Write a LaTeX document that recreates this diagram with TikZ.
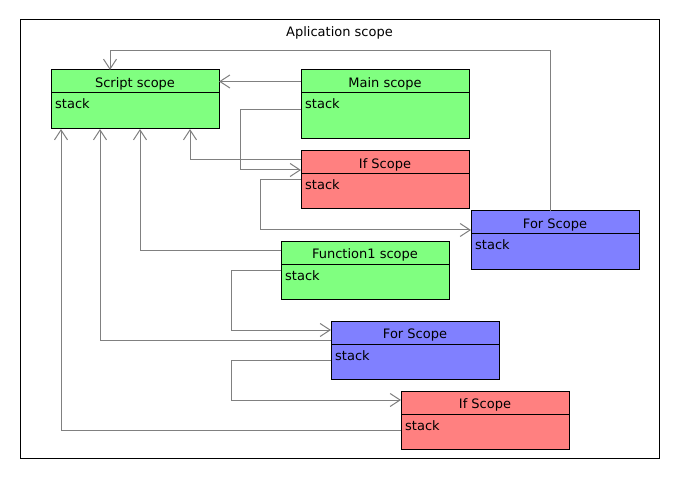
\documentclass[tikz,border=0pt]{standalone}
\usepackage{fontspec}
\setmainfont{DejaVu Sans}
\usetikzlibrary{arrows.meta,positioning,calc}
\definecolor{scopegreen}{RGB}{128,255,128}
\definecolor{scopered}{RGB}{255,128,128}
\definecolor{scopeblue}{RGB}{128,128,255}
\definecolor{linkgray}{RGB}{128,128,128}

\begin{document}
\begin{tikzpicture}[x=1pt,y=1pt,
    scopehead/.style={draw=black,line width=1pt,anchor=north west,minimum width=168pt,
      minimum height=23pt,inner sep=0pt,outer sep=0pt,text height=12.5pt,text depth=0.5pt,
      font=\fontsize{13}{15}\selectfont},
    scopebody/.style={draw=black,line width=1pt,anchor=north west,minimum width=168pt,
      inner sep=0pt,outer sep=0pt,
      label={[anchor=base west,xshift=4pt,yshift=-16pt,inner sep=0pt,
        font=\fontsize{13}{15}\selectfont]north west:stack}},
    link/.style={draw=linkgray,line width=1pt,
      -{Straight Barb[length=10pt,width=13pt,line width=1pt]}}]
  \useasboundingbox (0,0) rectangle (680,480);
  % frame
  \node[draw=black,line width=1pt,anchor=south west,minimum width=639pt,minimum height=439pt,
    inner sep=0pt] (frame) at (20,21) {};
  \node[anchor=base,inner sep=0pt,font=\fontsize{13}{15}\selectfont] (title) at (339.5,443.2) {Aplication scope};
  % scopes
  \node[scopehead,fill=scopegreen] (script) at (51,410) {Script scope};
  \node[scopebody,fill=scopegreen,minimum height=36pt] (script-s) at (script.south west) {};
  \node[scopehead,fill=scopegreen] (main) at (301,410) {Main scope};
  \node[scopebody,fill=scopegreen,minimum height=46pt] (main-s) at (main.south west) {};
  \node[scopehead,fill=scopered] (if1) at (301,329) {If Scope};
  \node[scopebody,fill=scopered,minimum height=35pt] (if1-s) at (if1.south west) {};
  \node[scopehead,fill=scopeblue] (for1) at (471,269) {For Scope};
  \node[scopebody,fill=scopeblue,minimum height=35pt] (for1-s) at (for1.south west) {};
  \node[scopehead,fill=scopegreen] (fn) at (281,239) {Function1 scope};
  \node[scopebody,fill=scopegreen,minimum height=35pt] (fn-s) at (fn.south west) {};
  \node[scopehead,fill=scopeblue] (for2) at (331,159) {For Scope};
  \node[scopebody,fill=scopeblue,minimum height=35pt] (for2-s) at (for2.south west) {};
  \node[scopehead,fill=scopered] (if2) at (401,89) {If Scope};
  \node[scopebody,fill=scopered,minimum height=35pt] (if2-s) at (if2.south west) {};
  % links
  \draw[link] (main.west) -- (script.east);
  \draw[link] ([xshift=-5pt]for1.north) -- ++(0,160) -| ([xshift=-25pt]script.north);
  \draw[link] ([yshift=-40pt]main.north west) -- ++(-61,0) |- ([yshift=-19pt]if1.north west);
  \draw[link] ([yshift=-9pt]if1.north west) -| ([xshift=139pt]script-s.south west);
  \draw[link] ([yshift=-29pt]if1.north west) -- ++(-41,0) |- ([yshift=-19pt]for1.north west);
  \draw[link] ([yshift=-9pt]fn.north west) -| ([xshift=89pt]script-s.south west);
  \draw[link] ([yshift=-29pt]fn.north west) -- ++(-50,0) |- ([yshift=-9pt]for2.north west);
  \draw[link] ([yshift=-19pt]for2.north west) -| ([xshift=49pt]script-s.south west);
  \draw[link] ([yshift=-39pt]for2.north west) -- ++(-100,0) |- ([yshift=-9pt]if2.north west);
  \draw[link] ([yshift=-39pt]if2.north west) -| ([xshift=10pt]script-s.south west);
\end{tikzpicture}
\end{document}
